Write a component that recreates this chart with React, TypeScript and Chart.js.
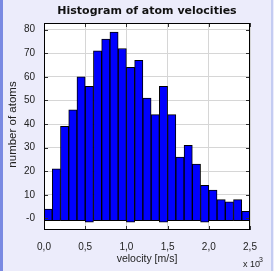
import React, { useEffect, useRef } from "react";
import { Chart, registerables } from "chart.js";

Chart.register(...registerables);

// bin centers (x 10^3 m/s)
const binCenters = [0.05, 0.15, 0.25, 0.35, 0.45, 0.55, 0.65, 0.75, 0.85, 0.95, 1.05, 1.15, 1.25, 1.35, 1.45, 1.55, 1.65, 1.75, 1.85, 1.95, 2.05, 2.15, 2.25, 2.35, 2.45];
const counts = [4, 21, 39, 46, 60, 56, 71, 76, 79, 72, 64, 67, 51, 44, 56, 44, 26, 31, 23, 14, 12, 8, 7, 8, 3];
const bases = [-1, -1, -1, -1, -1, -1.6, -1, -1, -1, -1, -1.6, -1, -1, -1, -1.6, -1, -1, -1, -1, -1.6, -1, -1, -1, -1, -1];
const yTickValues = [0, 10, 20, 30, 40, 50, 60, 70, 80];
const xTickValues = [0, 0.5, 1.0, 1.5, 2.0, 2.5];

const TITLE = "Histogram of atom velocities";
const X_TITLE = "velocity [m/s]";
const Y_TITLE = "number of atoms";

const FONT = "'Liberation Sans', Arial, sans-serif";

const framePlugin = {
  id: "framePlugin",
  beforeDraw(chart: any) {
    const { ctx, width, height, chartArea } = chart;
    ctx.save();
    ctx.fillStyle = "#ECECFB";
    ctx.fillRect(0, 0, width, height);
    ctx.fillStyle = "#7A8AE2";
    ctx.fillRect(0, 0, 3, height);
    ctx.fillStyle = "#C4CCF2";
    ctx.fillRect(width - 3, 0, 2, height);
    ctx.fillStyle = "#FFFFFF";
    ctx.fillRect(chartArea.left, chartArea.top, chartArea.right - chartArea.left, chartArea.bottom - chartArea.top);
    ctx.restore();
  },
  afterDraw(chart: any) {
    const { ctx, chartArea } = chart;
    const { left, right, top, bottom } = chartArea;
    const xs = chart.scales.x;
    const ys = chart.scales.y;
    ctx.save();
    // inner tick marks
    ctx.strokeStyle = "#333";
    ctx.lineWidth = 1;
    ctx.beginPath();
    yTickValues.forEach((v) => {
      const y = Math.round(ys.getPixelForValue(v)) + 0.5;
      ctx.moveTo(left, y);
      ctx.lineTo(left + 4, y);
      ctx.moveTo(right, y);
      ctx.lineTo(right - 4, y);
    });
    xTickValues.forEach((v) => {
      const x = Math.round(xs.getPixelForValue(v)) + 0.5;
      ctx.moveTo(x, top);
      ctx.lineTo(x, top + 4);
      ctx.moveTo(x, bottom);
      ctx.lineTo(x, bottom - 4);
    });
    ctx.stroke();
    // frame
    ctx.strokeStyle = "#000";
    ctx.strokeRect(left + 0.5, top + 0.5, right - left - 1, bottom - top - 1);

    // texts
    ctx.fillStyle = "#111";
    ctx.textAlign = "center";
    ctx.textBaseline = "middle";
    ctx.font = `bold 11px 'DejaVu Sans', Verdana, sans-serif`;
    ctx.fillText(TITLE, (left + right) / 2, 11.5);

    ctx.font = `10.5px ${FONT}`;
    ctx.fillStyle = "#222";
    ctx.fillText(X_TITLE, (left + right) / 2, 259);

    ctx.save();
    ctx.translate(13, (top + bottom) / 2 - 2);
    ctx.rotate(-Math.PI / 2);
    ctx.font = `11.5px ${FONT}`;
    ctx.fillText(Y_TITLE, 0, 0);
    ctx.restore();

    ctx.textAlign = "left";
    ctx.font = `9px ${FONT}`;
    ctx.fillText("x 10", 243, 265);
    ctx.font = `7px ${FONT}`;
    ctx.fillText("3", 259, 260);
    ctx.restore();
  },
};

export default function App() {
  const ref = useRef<HTMLCanvasElement | null>(null);
  useEffect(() => {
    if (!ref.current) return;
    const chart = new Chart(ref.current, {
      type: "bar",
      data: {
        datasets: [
          {
            data: binCenters.map((x, i) => ({ x, y: [bases[i], counts[i]] })) as any,
            backgroundColor: "#0000FF",
            borderColor: "#000000",
            borderWidth: 1,
            borderSkipped: false,
            barPercentage: 1,
            categoryPercentage: 1,
          },
        ],
      },
      options: {
        animation: false,
        responsive: false,
        layout: { padding: { top: 23, right: 24, bottom: 0, left: 0 } },
        plugins: { legend: { display: false }, tooltip: { enabled: false }, title: { display: false } },
        scales: {
          x: {
            type: "linear",
            min: 0,
            max: 2.5,
            offset: false,
            afterFit: (s: any) => {
              s.height = 41;
            },
            afterBuildTicks: (s: any) => {
              s.ticks = xTickValues.map((v) => ({ value: v }));
            },
            grid: { color: "#D6D6D6", drawTicks: false, offset: false },
            border: { display: false },
            ticks: {
              padding: 11,
              color: "#222",
              font: { family: FONT, size: 10 },
              maxRotation: 0,
              autoSkip: false,
              callback: (v: any) => Number(v).toFixed(1).replace(".", ","),
            },
          },
          y: {
            min: -4.9,
            max: 82.8,
            afterFit: (s: any) => {
              s.width = 44;
            },
            afterBuildTicks: (s: any) => {
              s.ticks = yTickValues.map((v) => ({ value: v }));
            },
            grid: { color: "#D6D6D6", drawTicks: false },
            border: { display: false },
            ticks: {
              padding: 9,
              color: "#222",
              font: { family: FONT, size: 10 },
              autoSkip: false,
              callback: (v: any) => (Number(v) === 0 ? "-0" : String(v)),
            },
          },
        },
      },
      plugins: [framePlugin],
    });
    return () => chart.destroy();
  }, []);
  return (
    <div style={{ position: "fixed", left: 0, top: 0, width: 274, height: 271 }}>
      <canvas ref={ref} width={274} height={271} style={{ width: 274, height: 271 }} />
    </div>
  );
}
